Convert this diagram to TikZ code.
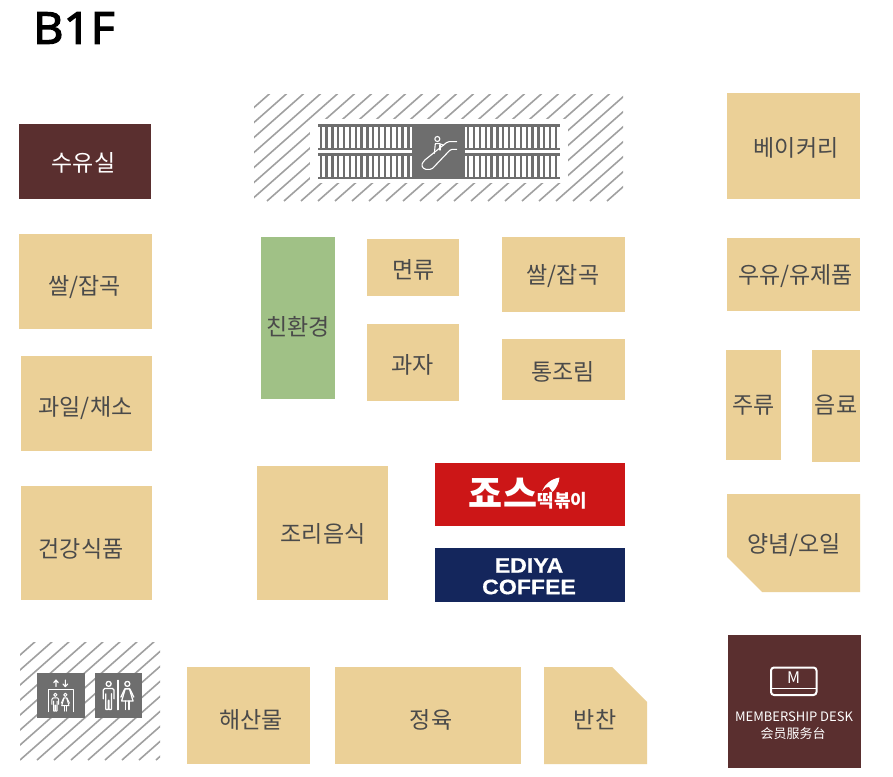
\documentclass[tikz,border=0pt]{standalone}
\usepackage{fontspec}
\newfontfamily\krfont{Noto Sans CJK KR}
\newfontfamily\zhfont{Noto Sans CJK SC}
\newfontfamily\titlefont[FakeBold=2.5,FakeStretch=1.07]{Noto Sans}
\newfontfamily\edfont[FakeStretch=1.1,FakeBold=0.5]{Liberation Sans}
\definecolor{tanbox}{HTML}{EBD097}
\definecolor{brownbox}{HTML}{5A2F2F}
\definecolor{greenbox}{HTML}{A0C186}
\definecolor{redbox}{HTML}{CC1617}
\definecolor{navybox}{HTML}{14265C}
\definecolor{graybox}{HTML}{6E6E6E}
\definecolor{hatchc}{HTML}{A0A0A0}
\definecolor{labelc}{HTML}{4A4A4A}
\tikzset{
  lbl/.style={font=\krfont\fontsize{23}{23}\selectfont,text=labelc,inner sep=0pt},
  lblw/.style={lbl,text=white},
  icon/.style={draw=white,line width=1.1pt,line join=round,line cap=round},
  hatchline/.style={draw=hatchc,line width=1.6pt}
}
\newcommand{\hatchfill}[5]{%
  \begin{scope}
    \clip (#1,#2) rectangle (#3,#4);
    \foreach \k in {-10,...,40} {
      \draw[hatchline] ({#1+\k*17+#5},#4) -- ++(170,-150);
    }
  \end{scope}}
\newcommand{\manicon}[1]{%
  \draw[icon,line width=#1] (0,8) circle (7);
  \draw[icon,line width=#1,rounded corners=.5pt] (-8,36) -- (-8,80) -- (-1,80) -- (-1,54) -- (1,54) -- (1,80) -- (8,80) -- (8,36);
  \draw[icon,line width=#1,rounded corners=1.5pt] (-15,50) -- (-15,21) -- (15,21) -- (15,50);}
\newcommand{\womanicon}[1]{%
  \draw[icon,line width=#1] (0,8) circle (7);
  \draw[icon,line width=#1] (-6,22) -- (-16,56) -- (16,56) -- (6,22) -- cycle;
  \draw[icon,line width=#1] (-7,22) -- (-18,45) (7,22) -- (18,45);
  \draw[icon,line width=#1] (-5,56) -- (-5,80) (5,56) -- (5,80);}
\begin{document}
\begin{tikzpicture}[x=1pt,y=-1pt]
\useasboundingbox (0,0) rectangle (893,776);
\fill[white] (0,0) rectangle (893,776);

\node[inner sep=0pt,font=\titlefont\fontsize{44}{44}\selectfont,text=black] (title) at (74,28) {B1F};

% hatch zones
\hatchfill{254}{94}{623}{201}{-4}
\hatchfill{20}{642}{160}{760}{0}

% rooms
\fill[brownbox] (19,124) rectangle (151,199);
\fill[tanbox] (727,93) rectangle (860,199);
\fill[tanbox] (19,234) rectangle (152,329);
\fill[tanbox] (21,356) rectangle (152,451);
\fill[tanbox] (21,486) rectangle (152,600);
\fill[greenbox] (261,237) rectangle (335,399);
\fill[tanbox] (367,239) rectangle (459,296);
\fill[tanbox] (367,324) rectangle (459,401);
\fill[tanbox] (502,237) rectangle (625,312);
\fill[tanbox] (502,339) rectangle (625,400);
\fill[tanbox] (257,466) rectangle (388,600);
\fill[tanbox] (727,238) rectangle (860,311);
\fill[tanbox] (726,350) rectangle (781,460);
\fill[tanbox] (812,350) rectangle (860,462);
\fill[tanbox] (727,494) -- (860,494) -- (860,592) -- (762,592) -- (727,557) -- cycle;
\fill[tanbox] (187,667) rectangle (310,764);
\fill[tanbox] (335,667) rectangle (521,764);
\fill[tanbox] (544,667) -- (612,667) -- (647,702) -- (647,764) -- (544,764) -- cycle;
\fill[redbox] (435,463) rectangle (625,526);
\fill[navybox] (435,548) rectangle (625,602);
\fill[brownbox] (728,635) rectangle (861,768);

% labels
\node[lblw] (n1) at (83.5,162.5) {수유실};
\node[lbl] (n2) at (84.5,287) {쌀/잡곡};
\node[lbl] (n3) at (85.5,408) {과일/채소};
\node[lbl] (n4) at (81,549) {건강식품};
\node[lbl] (n5) at (298,327) {친환경};
\node[lbl] (n6) at (413.5,270) {면류};
\node[lbl] (n7) at (412.5,365) {과자};
\node[lbl] (n8) at (563,276) {쌀/잡곡};
\node[lbl] (n9) at (563,372) {통조림};
\node[lbl] (n10) at (323,534) {조리음식};
\node[lbl] (n11) at (796,148) {베이커리};
\node[lbl] (n12) at (795.5,276) {우유/유제품};
\node[lbl] (n13) at (753.5,405) {주류};
\node[lbl] (n14) at (836,405) {음료};
\node[lbl] (n15) at (794,545) {양념/오일};
\node[lbl] (n16) at (251,720) {해산물};
\node[lbl] (n17) at (431,720) {정육};
\node[lbl] (n18) at (595,720) {반찬};

% Jaws logo
\node[inner sep=0pt,text=white,font=\krfont\bfseries\fontsize{37}{37}\selectfont] (jaws) at (503,493) {죠스};
\node[inner sep=0pt,text=white,font=\krfont\bfseries\fontsize{18}{18}\selectfont] (jaws2) at (562.5,501) {떡볶이};
\fill[white] (542,491) .. controls (545,484) and (551,479) .. (559.5,477.5) .. controls (559,483) and (556.5,488) .. (552.5,492) -- (549,487) -- (546,487.5) -- cycle;

% Ediya logo
\node[inner sep=0pt,text=white,font=\edfont\bfseries\fontsize{21}{21}\selectfont] (ed1) at (529,565.5) {EDIYA};
\node[inner sep=0pt,text=white,font=\edfont\bfseries\fontsize{21}{21}\selectfont] (ed2) at (529,587) {COFFEE};

% Escalator block
\fill[white] (310,119) rectangle (568,183);
\foreach \xa/\xb in {318/413,465/560} {
  \fill[graybox] (\xa,124) rectangle (\xb,126.5);
  \fill[graybox] (\xa,147.5) rectangle (\xb,150);
  \fill[graybox] (\xa,153) rectangle (\xb,155.5);
  \fill[graybox] (\xa,176.7) rectangle (\xb,179.3);
}
\foreach \i in {0,...,15} {
  \fill[graybox] ({319.5+\i*5.85},125) rectangle ({321.8+\i*5.85},148);
  \fill[graybox] ({319.5+\i*5.85},155) rectangle ({321.8+\i*5.85},177);
  \fill[graybox] ({467+\i*5.85},125) rectangle ({469.3+\i*5.85},148);
  \fill[graybox] ({467+\i*5.85},155) rectangle ({469.3+\i*5.85},177);
}
\fill[graybox] (412,124) rectangle (464.5,179.3);
\begin{scope}[shift={(405,120)},scale=1/3]
  \draw[icon] (97,57) circle (7.5);
  \draw[icon] (88,100) -- (91,71) -- (104,71) -- (116,76);
  \draw[icon] (105,74) -- (105,90);
  \draw[icon,rounded corners=1.5pt] (155,65) -- (128,65) -- (57,122) -- (49,136) -- (58,148) -- (80,148) -- (137,88) -- (155,88);
\end{scope}

% Elevator + WC icons
\fill[graybox] (37,673) rectangle (84.5,717.5);
\fill[graybox] (95,673) rectangle (142,717.5);
\begin{scope}[shift={(10,635)},scale=1/3]
  \draw[icon] (138,155) -- (138,135) (131,143) -- (138,135) -- (145,143);
  \draw[icon] (166,135) -- (166,155) (159,147) -- (166,155) -- (173,147);
  \draw[icon] (115,230) -- (115,163) -- (190,163) -- (190,230);
  \begin{scope}[shift={(136,174)},scale=.68]\manicon{1pt}\end{scope}
  \begin{scope}[shift={(166,174)},scale=.68]\womanicon{1pt}\end{scope}
  \begin{scope}[shift={(296,138)},scale=1.07]\manicon{1.3pt}\end{scope}
  \draw[icon,line width=1.3pt] (324,136) -- (324,224);
  \begin{scope}[shift={(352,138)},scale=1.07]\womanicon{1.3pt}\end{scope}
\end{scope}

% Membership icon
\draw[white,line width=2pt,rounded corners=3pt] (771,667.5) rectangle (816.5,695);
\draw[white,line width=1.6pt] (771,688.5) -- (816.5,688.5);
\node[inner sep=0pt,text=white,font=\krfont\fontsize{16}{16}\selectfont] (mk) at (793.5,678) {M};
\node[inner sep=0pt,text=white,font=\krfont\fontsize{13}{13}\selectfont] (md) at (794,716.5) {MEMBERSHIP DESK};
\node[inner sep=0pt,text=white,font=\zhfont\fontsize{13}{13}\selectfont] (mc) at (793,733.5) {会员服务台};
\end{tikzpicture}
\end{document}
